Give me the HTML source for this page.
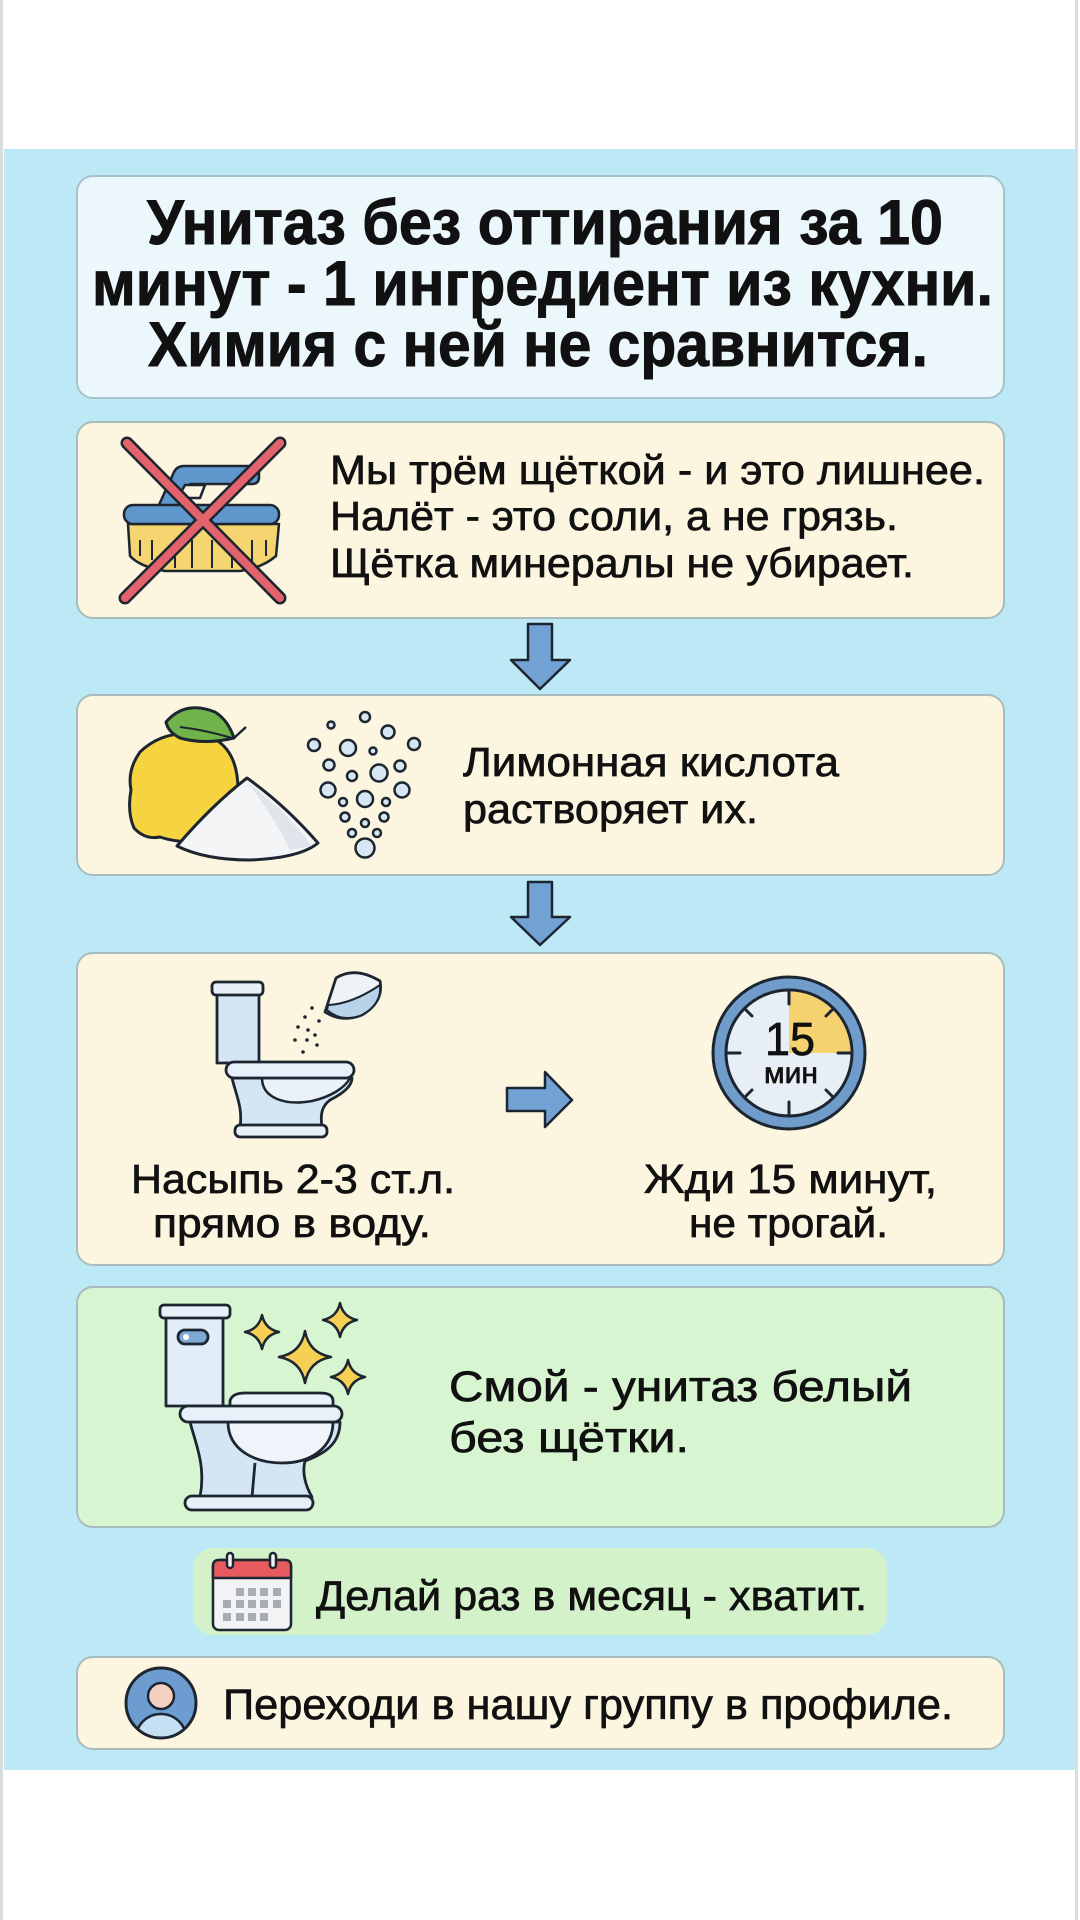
<!DOCTYPE html>
<html>
<head>
<meta charset="utf-8">
<style>
html,body{margin:0;padding:0;background:#fff;}
svg{display:block;}
text{font-family:"Liberation Sans", sans-serif; fill:#111;}
.b{stroke:#111;stroke-width:0.7px;}
.t{stroke:#111;stroke-width:1px;}
</style>
</head>
<body>
<svg width="1080" height="1920" viewBox="0 0 1080 1920" xmlns="http://www.w3.org/2000/svg">
  <!-- page -->
  <rect x="0" y="0" width="1080" height="1920" fill="#ffffff"/>
  <rect x="0" y="0" width="3" height="1920" fill="#d9dddd"/>
  <rect x="1075" y="0" width="3" height="1920" fill="#d9dddd"/>
  <rect x="4" y="149" width="1071" height="1621" fill="#bce9f5"/>

  <!-- Title box -->
  <rect x="77" y="176" width="927" height="222" rx="16" fill="#ebf7fb" stroke="#a5c3c8" stroke-width="2"/>
  <g font-weight="bold" font-size="63" class="t">
    <text x="147" y="244" textLength="796" lengthAdjust="spacingAndGlyphs">Унитаз без оттирания за 10</text>
    <text x="92" y="305" textLength="901" lengthAdjust="spacingAndGlyphs">минут - 1 ингредиент из кухни.</text>
    <text x="148" y="366" textLength="780" lengthAdjust="spacingAndGlyphs">Химия с ней не сравнится.</text>
  </g>

  <!-- Box 2 -->
  <rect x="77" y="422" width="927" height="196" rx="16" fill="#fcf6e1" stroke="#a9bcbc" stroke-width="2"/>
  <!-- brush -->
  <g stroke="#1d2630" stroke-width="2.5" stroke-linejoin="round">
    <path d="M158,507 L174,472 Q177,466 184,466 L252,466 Q259,466 259,473 L259,477 Q259,484 252,484 L190,484 L180,507 Z" fill="#5f97cc"/>
    <path d="M178,498 L185,485 L205,485 L200,498 Z" fill="#fcf6e1"/>
    <path d="M128,524 L279,524 L276,556 Q262,568 240,571 L165,571 Q140,567 130,556 Z" fill="#f4d56f"/>
    <rect x="124" y="505" width="155" height="19" rx="9" fill="#5f97cc"/>
    <g fill="none" stroke-width="2">
      <path d="M140,540 L140,556"/><path d="M152,540 L152,560"/><path d="M175,545 L175,568"/>
      <path d="M192,540 L192,568"/><path d="M212,540 L212,568"/><path d="M232,545 L232,568"/>
      <path d="M252,540 L252,562"/><path d="M266,540 L266,556"/>
    </g>
  </g>
  <g stroke-linecap="round">
    <line x1="127" y1="443" x2="280" y2="598" stroke="#1d2630" stroke-width="13"/>
    <line x1="280" y1="443" x2="125" y2="598" stroke="#1d2630" stroke-width="13"/>
    <line x1="127" y1="443" x2="280" y2="598" stroke="#e2636c" stroke-width="8"/>
    <line x1="280" y1="443" x2="125" y2="598" stroke="#e2636c" stroke-width="8"/>
  </g>
  <g font-size="41" class="b">
    <text x="330" y="484" textLength="655" lengthAdjust="spacingAndGlyphs">Мы трём щёткой - и это лишнее.</text>
    <text x="330" y="530" textLength="568" lengthAdjust="spacingAndGlyphs">Налёт - это соли, а не грязь.</text>
    <text x="330" y="577" textLength="584" lengthAdjust="spacingAndGlyphs">Щётка минералы не убирает.</text>
  </g>

  <!-- Arrow 1 -->
  <path d="M528,624 L552,624 L552,660 L570,660 L540,689 L511,660 L528,660 Z" fill="#72a2d4" stroke="#1d2630" stroke-width="2.5" stroke-linejoin="round"/>

  <!-- Box 3 -->
  <rect x="77" y="695" width="927" height="180" rx="16" fill="#fcf6e1" stroke="#a9bcbc" stroke-width="2"/>
  <g stroke="#1d2630" stroke-width="3" stroke-linejoin="round">
    <path d="M140,752 Q165,728 205,735 Q238,745 238,790 Q237,832 205,840 Q180,844 160,837 Q145,840 134,828 Q127,812 131,790 Q127,770 140,752 Z" fill="#f5d43f"/>
    <path d="M166,722 Q185,700 215,712 Q228,720 234,738 Q205,745 180,738 Q168,732 166,722 Z" fill="#70b34b"/>
    <path d="M180,727 Q205,730 232,738" fill="none" stroke-width="2"/>
    <path d="M234,738 L246,727" fill="none" stroke-width="2.5"/>
    <path d="M177,846 Q212,805 247,778 Q285,805 318,843 Q300,858 250,860 Q205,860 177,846 Z" fill="#f3f5f7"/>
  </g>
  <path d="M247,782 Q270,810 290,850 L312,846 Q285,810 247,782 Z" fill="#dfe5ea"/>
  <g fill="#d6e7f3" stroke="#1d2630" stroke-width="2.5">
    <circle cx="365" cy="717" r="5"/><circle cx="331" cy="725" r="3.5"/><circle cx="388" cy="732" r="6.5"/>
    <circle cx="314" cy="745" r="6"/><circle cx="348" cy="748" r="8"/><circle cx="373" cy="751" r="3.5"/>
    <circle cx="414" cy="744" r="6"/><circle cx="329" cy="765" r="5.5"/><circle cx="352" cy="776" r="5"/>
    <circle cx="379" cy="773" r="8.5"/><circle cx="400" cy="766" r="5.5"/><circle cx="328" cy="790" r="7.5"/>
    <circle cx="365" cy="799" r="8"/><circle cx="402" cy="790" r="7.5"/><circle cx="343" cy="802" r="4"/>
    <circle cx="386" cy="802" r="4"/><circle cx="345" cy="817" r="4.5"/><circle cx="384" cy="817" r="4.5"/>
    <circle cx="365" cy="823" r="4"/><circle cx="352" cy="833" r="4"/><circle cx="377" cy="833" r="4"/>
    <circle cx="365" cy="848" r="9.5"/>
  </g>
  <g font-size="41" class="b">
    <text x="463" y="776" textLength="376" lengthAdjust="spacingAndGlyphs">Лимонная кислота</text>
    <text x="463" y="823" textLength="295" lengthAdjust="spacingAndGlyphs">растворяет их.</text>
  </g>

  <!-- Arrow 2 -->
  <path d="M528,882 L552,882 L552,917 L570,917 L540,945 L511,917 L528,917 Z" fill="#72a2d4" stroke="#1d2630" stroke-width="2.5" stroke-linejoin="round"/>

  <!-- Box 4 -->
  <rect x="77" y="953" width="927" height="312" rx="16" fill="#fcf6e1" stroke="#a9bcbc" stroke-width="2"/>
  <!-- toilet 1 -->
  <g stroke="#1d2630" stroke-width="2.8" stroke-linejoin="round">
    <rect x="217" y="994" width="42" height="69" fill="#d4e6f4"/>
    <rect x="212" y="982" width="51" height="13" rx="4" fill="#e7f0f8"/>
    <path d="M232,1078 C236,1095 243,1108 240,1127 L322,1127 C320,1114 322,1106 330,1100 C346,1092 352,1085 352,1078 Z" fill="#d4e6f4"/>
    <path d="M262,1078 C262,1098 285,1106 312,1101 C330,1097 345,1088 350,1078 Z" fill="#e9f1f9" stroke-width="2.5"/>
    <rect x="226" y="1062" width="128" height="16" rx="8" fill="#e8f1f9"/>
    <rect x="235" y="1125" width="92" height="12" rx="5" fill="#e7f0f8"/>
    <path d="M325,1012 L336,978 Q355,966 380,981 Q384,1002 362,1015 Q342,1023 325,1012 Z" fill="#eef3f8"/>
    <path d="M328,1005 Q352,1004 380,985 Q382,1004 362,1015 Q342,1023 327,1010 Z" fill="#b8d2ea" stroke-width="2"/>
  </g>
  <g fill="#1d2630">
    <circle cx="312" cy="1008" r="1.8"/><circle cx="305" cy="1017" r="1.8"/><circle cx="319" cy="1021" r="1.8"/>
    <circle cx="298" cy="1027" r="1.8"/><circle cx="308" cy="1030" r="1.8"/><circle cx="315" cy="1035" r="1.8"/>
    <circle cx="295" cy="1040" r="1.8"/><circle cx="307" cy="1040" r="1.8"/><circle cx="317" cy="1045" r="1.8"/>
    <circle cx="303" cy="1052" r="1.8"/>
  </g>
  <!-- right arrow -->
  <path d="M507,1088 L545,1088 L545,1072 L572,1100 L545,1127 L545,1111 L507,1111 Z" fill="#72a2d4" stroke="#1d2630" stroke-width="2.5" stroke-linejoin="round"/>
  <!-- clock -->
  <circle cx="789" cy="1053" r="76" fill="#6f9ccb" stroke="#1d2630" stroke-width="3"/>
  <circle cx="789" cy="1053" r="63" fill="#e8eef5" stroke="#1d2630" stroke-width="3"/>
  <path d="M789,1053 L789,991.5 A61.5,61.5 0 0 1 850.5,1053 Z" fill="#f6d170"/>
  <g stroke="#1d2630" stroke-width="3" stroke-linecap="round">
    <line x1="789" y1="992" x2="789" y2="1004"/>
    <line x1="789" y1="1102" x2="789" y2="1114"/>
    <line x1="728" y1="1053" x2="740" y2="1053"/>
    <line x1="838" y1="1053" x2="850" y2="1053"/>
    <line x1="746" y1="1010" x2="752" y2="1016"/>
    <line x1="832" y1="1010" x2="826" y2="1016"/>
    <line x1="746" y1="1096" x2="752" y2="1090"/>
    <line x1="832" y1="1096" x2="826" y2="1090"/>
  </g>
  <text x="790" y="1055" font-size="46" text-anchor="middle" class="b" textLength="50" lengthAdjust="spacingAndGlyphs">15</text>
  <text x="791" y="1083" font-size="30" text-anchor="middle" class="b">мин</text>
  <g font-size="41" class="b">
    <text x="131" y="1193" textLength="324" lengthAdjust="spacingAndGlyphs">Насыпь 2-3 ст.л.</text>
    <text x="153" y="1237" textLength="278" lengthAdjust="spacingAndGlyphs">прямо в воду.</text>
    <text x="644" y="1193" textLength="293" lengthAdjust="spacingAndGlyphs">Жди 15 минут,</text>
    <text x="689" y="1237" textLength="199" lengthAdjust="spacingAndGlyphs">не трогай.</text>
  </g>

  <!-- Box 5 -->
  <rect x="77" y="1287" width="927" height="240" rx="16" fill="#d7f5d0" stroke="#a9bcbc" stroke-width="2"/>
  <g stroke="#1d2630" stroke-width="2.8" stroke-linejoin="round">
    <rect x="166" y="1317" width="57" height="89" fill="#e1edf8"/>
    <rect x="160" y="1305" width="70" height="13" rx="4" fill="#e7f0f8"/>
    <rect x="178" y="1330" width="30" height="14" rx="7" fill="#7fa8d6"/>
    <path d="M190,1422 C196,1445 206,1466 200,1497 L312,1497 C305,1485 302,1472 305,1461 C330,1452 340,1440 340,1422 Z" fill="#d4e6f4"/>
    <path d="M228,1422 C228,1450 255,1463 282,1463 C312,1463 333,1447 333,1422 Z" fill="#eef4fa"/>
    <path d="M255,1463 L252,1497" fill="none"/>
    <path d="M230,1407 L230,1401 Q232,1393 245,1393 L320,1393 Q333,1393 333,1401 L333,1407 Z" fill="#eaf2f9"/>
    <rect x="180" y="1406" width="162" height="16" rx="8" fill="#e8f1f9"/>
    <rect x="185" y="1496" width="128" height="14" rx="7" fill="#e7f0f8"/>
  </g>
  <circle cx="186" cy="1337" r="3" fill="#fff"/>
  <g fill="#f6cf55" stroke="#1d2630" stroke-width="2.5" stroke-linejoin="round">
    <path d="M305,1331 Q309,1353 331,1357 Q309,1361 305,1383 Q301,1361 279,1357 Q301,1353 305,1331 Z"/>
    <path d="M262,1315 Q265,1329 279,1332 Q265,1335 262,1349 Q259,1335 245,1332 Q259,1329 262,1315 Z"/>
    <path d="M340,1303 Q343,1317 357,1320 Q343,1323 340,1337 Q337,1323 323,1320 Q337,1317 340,1303 Z"/>
    <path d="M348,1360 Q351,1374 365,1377 Q351,1380 348,1394 Q345,1380 331,1377 Q345,1374 348,1360 Z"/>
  </g>
  <g font-size="43" class="b">
    <text x="449" y="1401" textLength="463" lengthAdjust="spacingAndGlyphs">Смой - унитаз белый</text>
    <text x="449" y="1452" textLength="240" lengthAdjust="spacingAndGlyphs">без щётки.</text>
  </g>

  <!-- Pill -->
  <rect x="193" y="1548" width="694" height="87" rx="20" fill="#d3f2ca"/>
  <g stroke="#1d2630" stroke-width="2.5" stroke-linejoin="round">
    <rect x="213" y="1560" width="78" height="70" rx="6" fill="#f1f3f5"/>
    <path d="M213,1578 L213,1566 Q213,1560 219,1560 L285,1560 Q291,1560 291,1566 L291,1578 Z" fill="#e75a5d"/>
    <rect x="227" y="1553" width="6" height="15" rx="3" fill="#f1f3f5"/>
    <rect x="270" y="1553" width="6" height="15" rx="3" fill="#f1f3f5"/>
  </g>
  <g fill="#a9adb3">
    <rect x="236" y="1588" width="8" height="8"/><rect x="248" y="1588" width="8" height="8"/><rect x="260" y="1588" width="8" height="8"/><rect x="273" y="1588" width="8" height="8"/>
    <rect x="223" y="1600" width="8" height="8"/><rect x="236" y="1600" width="8" height="8"/><rect x="248" y="1600" width="8" height="8"/><rect x="260" y="1600" width="8" height="8"/><rect x="273" y="1600" width="8" height="8"/>
    <rect x="223" y="1613" width="8" height="8"/><rect x="236" y="1613" width="8" height="8"/><rect x="248" y="1613" width="8" height="8"/><rect x="260" y="1613" width="8" height="8"/>
  </g>
  <text x="316" y="1610" font-size="42" class="b" textLength="551" lengthAdjust="spacingAndGlyphs">Делай раз в месяц - хватит.</text>

  <!-- Box 6 -->
  <rect x="77" y="1657" width="927" height="92" rx="16" fill="#fcf6e1" stroke="#a9bcbc" stroke-width="2"/>
  <defs>
    <clipPath id="av"><circle cx="161" cy="1703" r="34"/></clipPath>
  </defs>
  <circle cx="161" cy="1703" r="35" fill="#6c9cd0"/>
  <g clip-path="url(#av)" stroke="#1d2630" stroke-width="2.5">
    <ellipse cx="161" cy="1738" rx="25" ry="24" fill="#c5dff3"/>
  </g>
  <circle cx="161" cy="1696" r="13" fill="#f4d0c2" stroke="#1d2630" stroke-width="2.5"/>
  <circle cx="161" cy="1703" r="35" fill="none" stroke="#1d2630" stroke-width="3"/>
  <text x="223" y="1719" font-size="43" class="b" textLength="730" lengthAdjust="spacingAndGlyphs">Переходи в нашу группу в профиле.</text>
</svg>
</body>
</html>
